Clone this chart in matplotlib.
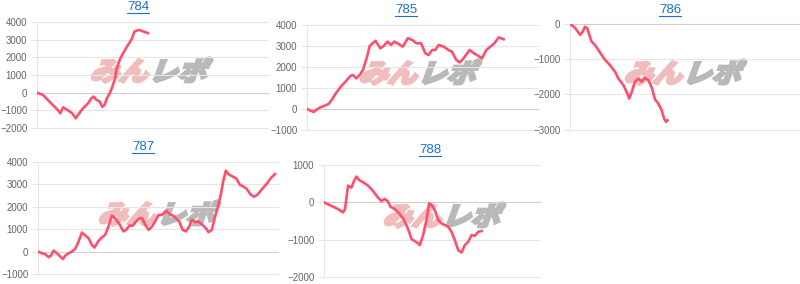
import matplotlib
matplotlib.use("Agg")
import matplotlib.pyplot as plt
from matplotlib.lines import Line2D
from matplotlib.patches import PathPatch
from matplotlib.textpath import TextPath
from matplotlib.font_manager import FontProperties
from matplotlib.transforms import Affine2D, IdentityTransform

plt.rcParams['font.family'] = ['Liberation Sans', 'DejaVu Sans']

# machine numbers
titles = ['784', '785', '786', '787', '788']

# games played / coin difference
games_784 = [0, 210, 320, 550, 730, 810, 900, 1070, 1220, 1340, 1420, 1590, 1770, 1880, 1960, 2050,
             2170, 2260, 2340, 2420, 2520, 2610, 2690, 2750, 2860, 2980, 3150, 3270, 3380, 3530, 3670, 3840]
diff_784 = [0, -130, -320, -700, -1000, -1170, -830, -1000, -1170, -1450, -1260, -890, -600, -320, -220, -400,
            -500, -800, -700, -320, -40, 340, 720, 1280, 1850, 2230, 2700, 3000, 3470, 3550, 3470, 3370]

games_785 = [0, 120, 230, 350, 460, 580, 750, 870, 980, 1150, 1330, 1500, 1590, 1710, 1820, 1940, 2080,
             2170, 2370, 2540, 2650, 2790, 2910, 3020, 3170, 3320, 3490, 3640, 3790, 3950, 4100, 4210,
             4330, 4440, 4560, 4730, 4900, 5020, 5170, 5290, 5420, 5630, 5790, 5940, 6060, 6210, 6350,
             6490, 6640, 6810]
diff_785 = [0, -80, -140, -15, 80, 140, 240, 460, 710, 1030, 1300, 1570, 1620, 1460, 1620, 1860, 2490,
            3000, 3250, 2890, 3000, 3210, 3050, 3210, 3100, 2970, 3370, 3290, 3130, 3130, 2650, 2570,
            2810, 2810, 3050, 2970, 2810, 2730, 2330, 2220, 2410, 2810, 2650, 2520, 2410, 2810, 2970,
            3130, 3410, 3320]

games_786 = [0, 140, 230, 350, 440, 520, 600, 670, 750, 870, 990, 1100, 1220, 1390, 1570, 1680,
             1860, 1970, 2060, 2150, 2260, 2380, 2490, 2610, 2730, 2840, 2960, 3070, 3190, 3270, 3340, 3390]
diff_786 = [0, -80, -170, -310, -220, -80, -120, -310, -500, -600, -740, -880, -1020, -1170, -1360, -1550,
            -1740, -1930, -2120, -1930, -1640, -1550, -1640, -1530, -1600, -1800, -2150, -2260, -2450,
            -2690, -2780, -2740]

games_787 = [0, 133, 244, 355, 432, 521, 632, 742, 831, 909, 1019, 1130, 1241, 1352, 1463, 1574, 1684,
             1795, 1884, 2017, 2127, 2238, 2349, 2460, 2571, 2715, 2848, 2937, 3047, 3158, 3269, 3380,
             3468, 3579, 3690, 3801, 3912, 4023, 4134, 4266, 4399, 4543, 4709, 4820, 4931, 5042, 5130,
             5241, 5352, 5485, 5596, 5684, 5795, 5873, 5984, 6094, 6172, 6260, 6371, 6482, 6615, 6726,
             6837, 6948, 7092, 7202, 7313, 7479, 7646, 7757, 7900]
diff_787 = [0, -75, -120, -250, -180, 45, -75, -220, -330, -180, -75, 0, 120, 450, 850, 720, 600,
            300, 180, 480, 630, 750, 1120, 1610, 1490, 1220, 900, 970, 1160, 1160, 1340, 1490,
            1490, 1190, 970, 1120, 1370, 1640, 1640, 1820, 1670, 1570, 1340, 970, 900, 1120, 1420,
            1310, 1340, 1190, 1040, 870, 970, 1420, 1940, 2540, 3130, 3610, 3430, 3360, 3250, 2990,
            2910, 2810, 2540, 2450, 2540, 2810, 3060, 3280, 3460]

games_788 = [0, 148, 334, 519, 705, 779, 890, 1014, 1100, 1199, 1298, 1446, 1595, 1755, 1879, 2002,
             2126, 2250, 2373, 2460, 2620, 2781, 2929, 3053, 3152, 3238, 3362, 3486, 3547, 3671, 3795,
             3894, 3980, 4104, 4228, 4351, 4475, 4599, 4722, 4846, 4970, 5093, 5217, 5341, 5464,
             5588, 5712, 5836]
diff_788 = [0, -54, -116, -179, -269, -179, 448, 394, 555, 690, 600, 537, 466, 358, 242, 125,
            36, 90, 18, -116, -179, -295, -430, -609, -788, -985, -1039, -1101, -1146, -877, -474,
            -27, -72, -206, -474, -564, -609, -654, -788, -1012, -1280, -1343, -1146, -1057, -877,
            -895, -788, -770]

games = [games_784, games_785, games_786, games_787, games_788]
diffs = [diff_784, diff_785, diff_786, diff_787, diff_788]
y_ranges = [(-2000, 4000), (-1000, 4000), (-3000, 0), (-1000, 4000), (-2000, 1000)]
max_games = 8000

W, H = 800, 284
# left, right, top, bottom in pixels (top-down)
boxes = [(37, 268, 22, 128), (307, 538, 25, 130), (570, 800, 24, 129.5),
         (38, 278, 162, 274), (324, 540, 165, 277)]
title_pos = [(138, 7), (406, 10), (670, 10), (143, 147), (430, 150)]
mark_pos = [(150, 70), (419, 72), (684, 72), (158, 213), (443, 215)]

LINE = '#ff4f6e'
GRID = '#e6e6e6'

fig = plt.figure(figsize=(W / 100, H / 100), dpi=100)


def add_mark(cx, cy):
    # "みんレポ" watermark, heavy and slanted like the logo
    prop = FontProperties(family='Noto Sans CJK JP', weight='bold')
    size = 29
    p1 = TextPath((0, 0), 'みん', size=size, prop=prop)
    p2 = TextPath((0, 0), 'レポ', size=size, prop=prop)
    w1 = p1.get_extents().x1
    w2 = p2.get_extents().x1
    gap = 2
    total = w1 + gap + w2
    x0 = cx - total / 2 - 3
    y0 = H - cy - size * 0.36
    t1 = Affine2D().scale(1, 0.9).skew_deg(20, 0).translate(x0, y0)
    t2 = Affine2D().scale(1, 0.9).skew_deg(20, 0).translate(x0 + w1 + gap, y0)
    fig.add_artist(PathPatch(t1.transform_path(p1), facecolor='#f0bcbc', edgecolor='#f0bcbc', lw=2.2,
                             zorder=-1, transform=IdentityTransform()))
    fig.add_artist(PathPatch(t2.transform_path(p2), facecolor='#b9b9b9', edgecolor='#b9b9b9', lw=2.2,
                             zorder=-1, transform=IdentityTransform()))


for i in range(5):
    l, r, t, b = boxes[i]
    ax = fig.add_axes([l / W, 1 - b / H, (r - l) / W, (b - t) / H])
    ax.set_facecolor('none')
    lo, hi = y_ranges[i]
    ax.plot(games[i], diffs[i], color=LINE, lw=1.9, solid_joinstyle='round', zorder=3)
    ax.set_xlim(0, max_games)
    ax.set_ylim(lo, hi)
    ax.set_yticks(range(lo, hi + 1, 1000))
    ax.set_xticks([])
    for s in ['top', 'right', 'bottom']:
        ax.spines[s].set_visible(False)
    ax.spines['left'].set_color(GRID)
    ax.spines['left'].set_linewidth(0.8)
    ax.tick_params(axis='y', length=4, width=0.8, color=GRID, pad=3, labelsize=7, labelcolor='#666666')
    for v in range(lo, hi + 1, 1000):
        ax.axhline(v, color='#cfcfcf' if v == 0 else GRID, lw=0.8, zorder=1, clip_on=False)

    add_mark(*mark_pos[i])

    tx, ty = title_pos[i]
    txt = fig.text(tx / W, 1 - ty / H, titles[i], ha='center', va='center', fontsize=9.5, color='#1a6fd0')
    fig.canvas.draw()
    bb = txt.get_window_extent()
    fig.add_artist(Line2D([bb.x0, bb.x1], [bb.y0 + 0.5, bb.y0 + 0.5], color='#1a6fd0', lw=0.8,
                          transform=IdentityTransform()))

fig.savefig('out.png', dpi=100)
